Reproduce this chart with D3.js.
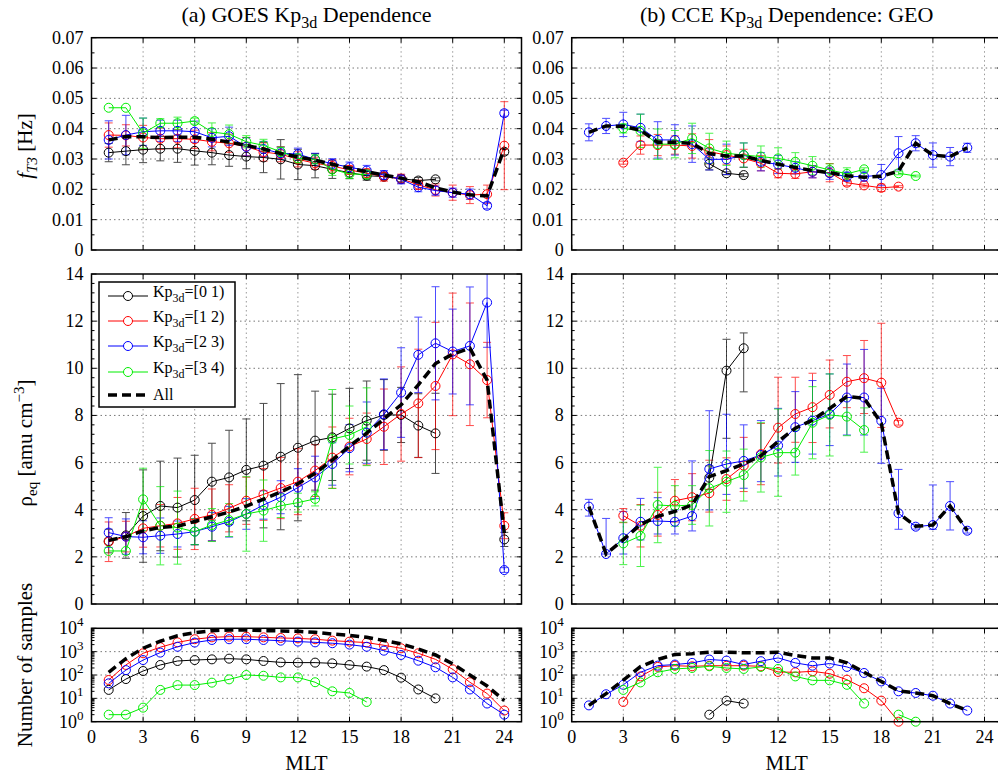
<!DOCTYPE html>
<html>
<head>
<meta charset="utf-8">
<script src="https://cdn.jsdelivr.net/npm/d3@7/dist/d3.min.js"></script>
<style>
  body { margin: 0; background: #fff; }
  svg { display: block; }
  svg text { font-family: "Liberation Serif", "DejaVu Serif", serif; }
</style>
</head>
<body>
<div id="graphicContainer"></div>
<script>

// MLT bins 1..24
const mlt = d3.range(1, 25)

const xTicks = [0, 3, 6, 9, 12, 15, 18, 21, 24]

const keyLabels = ["[0 1)", "[1 2)", "[2 3)", "[3 4)"]

const _ = null

// (a) GOES  f_T3 [Hz]
const fA_k01 = [0.0321,0.0326,0.0331,0.0334,0.0334,0.0327,0.0321,0.0313,0.0308,0.0305,0.0299,0.0282,0.0278,0.0266,0.0255,0.0245,0.0242,0.0235,0.0229,0.0233,_,_,_,0.0324]
const eA_k01 = [0.003,0.0045,0.0043,0.004,0.0045,0.0047,0.004,0.0037,0.004,0.005,0.0065,0.005,0.004,0.003,0.002,0.0015,0.001,0.001,0.001,0.0005,_,_,_,0.001]
const fA_k12 = [0.0379,0.0378,0.0371,0.0367,0.0367,0.0365,0.0357,0.0352,0.0341,0.0323,0.0316,0.0299,0.0286,0.0277,0.0264,0.0253,0.0242,0.0235,0.0215,0.0198,0.0189,0.0181,0.0184,0.0344]
const eA_k12 = [0.004,0.0035,0.004,0.0035,0.003,0.003,0.003,0.003,0.003,0.003,0.0025,0.0025,0.002,0.002,0.0015,0.0015,0.0015,0.0015,0.0015,0.002,0.0025,0.0028,0.003,0.0145]
const fA_k23 = [0.0363,0.0379,0.039,0.0393,0.0393,0.039,0.037,0.0375,0.034,0.0333,0.0319,0.0316,0.0299,0.0284,0.0273,0.0262,0.0247,0.0233,0.0207,0.0196,0.0189,0.0184,0.0146,0.0451]
const eA_k23 = [0.0063,0.0065,0.0045,0.0035,0.0035,0.0035,0.003,0.003,0.003,0.0025,0.002,0.002,0.002,0.0017,0.0017,0.0017,0.0015,0.0015,0.0015,0.0015,0.0015,0.0017,0.001,0.001]
const fA_k34 = [0.0469,0.0469,0.0385,0.0418,0.0418,0.0425,0.0389,0.0382,0.0357,0.0345,0.0324,0.0302,0.0299,0.0266,0.0251,0.0249,_,_,_,_,_,_,_,_]
const eA_k34 = [0,0,0.005,0.0015,0.002,0.001,0.003,0.003,0.002,0.002,0.0015,0.0015,0.0015,0.002,0.0015,0.0015,_,_,_,_,_,_,_,_]
const fA_all = [0.0363,0.0374,0.0373,0.0371,0.0372,0.0372,0.0365,0.0356,0.0345,0.0333,0.0318,0.0307,0.0296,0.0283,0.027,0.0258,0.0247,0.0237,0.0225,0.0205,0.0191,0.0182,0.0178,0.0335]

// (b) CCE GEO  f_T3 [Hz]
const fB_k01 = [_,_,_,_,_,_,_,0.0284,0.0253,0.0247,_,_,_,_,_,_,_,_,_,_,_,_,_,_]
const eB_k01 = [_,_,_,_,_,_,_,0.002,0.0005,0.0005,_,_,_,_,_,_,_,_,_,_,_,_,_,_]
const fB_k12 = [_,_,0.0288,0.0346,0.0346,0.0346,0.0343,0.0324,0.0313,0.0302,0.0286,0.0253,0.0251,0.0258,0.0255,0.0222,0.0213,0.0205,0.0209,_,_,_,_,_]
const eB_k12 = [_,_,0.0005,0.003,0.0035,0.003,0.004,0.004,0.003,0.003,0.0025,0.0015,0.0015,0.002,0.003,0.001,0.0005,0.0012,0.0003,_,_,_,_,_]
const fB_k23 = [0.0388,0.0409,0.0414,0.0403,0.0363,0.0363,0.0349,0.0299,0.0299,0.0313,0.0291,0.0282,0.0271,0.0258,0.0253,0.0242,0.0242,0.0247,0.0319,0.0352,0.0313,0.0308,0.0337,_]
const eB_k23 = [0.0028,0.0025,0.004,0.0045,0.006,0.005,0.006,0.0035,0.005,0.004,0.003,0.003,0.002,0.002,0.002,0.0015,0.0015,0.0035,0.0055,0.0025,0.004,0.003,0.0015,_]
const fB_k34 = [_,_,0.0401,0.0393,0.0349,0.0349,0.0368,0.0335,0.0319,0.0313,0.0308,0.0302,0.0291,0.0278,0.0264,0.0251,0.0266,_,0.0253,0.0244,_,_,_,_]
const eB_k34 = [_,_,0.0015,0.0055,0.005,0.0045,0.005,0.005,0.004,0.004,0.0035,0.0035,0.003,0.003,0.002,0.002,0.0005,_,0.0005,0.0003,_,_,_,_]
const fB_all = [0.0388,0.0409,0.0408,0.0395,0.0355,0.0355,0.0352,0.0318,0.031,0.031,0.0295,0.0283,0.0272,0.0262,0.0255,0.0245,0.024,0.0243,0.026,0.0352,0.0313,0.0308,0.0337,_]

// (a) GOES  rho_eq [amu cm^-3]
const rA_k01 = [2.67,2.91,3.73,4.16,4.09,4.41,5.19,5.37,5.69,5.87,6.25,6.63,6.93,7.07,7.45,7.78,8.02,8.02,7.57,7.24,_,_,_,2.74]
const eRA_k01 = [0.5,0.97,1.96,1.9,2.1,1.9,1.63,2.0,2.16,2.64,3.1,3.1,2.1,1.83,1.7,1.68,1.5,1.17,1.35,1.7,_,_,_,0.3]
const rA_k12 = [2.64,2.86,3.21,3.32,3.42,3.61,3.78,4.06,4.38,4.65,4.92,5.19,5.66,6.21,6.68,7.0,7.52,8.06,8.51,9.25,10.59,10.17,9.5,3.32]
const eRA_k12 = [0.84,0.65,0.8,0.9,1.1,1.3,1.1,1.0,1.0,1.1,1.3,1.4,1.1,1.3,1.2,1.1,1.6,2.0,2.3,2.7,2.6,2.6,1.6,0.55]
const rA_k23 = [3.03,2.86,2.83,2.9,2.97,3.07,3.28,3.49,3.82,4.2,4.53,4.94,5.37,5.94,6.61,7.27,8.05,8.97,10.57,11.06,10.71,10.95,12.79,1.44]
const eRA_k23 = [0.63,0.75,0.7,0.75,0.55,0.55,0.6,0.65,0.65,0.6,0.7,0.8,0.9,0.9,1.0,1.3,1.5,1.9,1.6,2.4,1.8,2.5,1.9,0.1]
const rA_k34 = [2.25,2.25,4.44,3.32,3.24,3.07,3.35,3.56,3.82,3.96,4.17,4.3,4.46,7.0,7.17,7.52,_,_,_,_,_,_,_,_]
const eRA_k34 = [0,0,1.32,1.66,1.55,0.55,0.7,0.7,1.58,1.3,0.5,0.4,0.3,2.1,1.23,1.65,_,_,_,_,_,_,_,_]
const rA_all = [2.7,2.85,3.1,3.25,3.3,3.5,3.7,3.9,4.15,4.45,4.75,5.1,5.55,6.1,6.7,7.25,7.85,8.45,9.3,10.2,10.6,10.85,9.5,3.0]

// (b) CCE GEO  rho_eq [amu cm^-3]  (upper / lower error where they differ)
const rB_k01 = [_,_,_,_,_,_,_,5.36,9.9,10.85,_,_,_,_,_,_,_,_,_,_,_,_,_,_]
const eRB_k01 = [_,_,_,_,_,_,_,0.5,1.33,0.65,_,_,_,_,_,_,_,_,_,_,_,_,_,_]
const eRB_k01_lo = [_,_,_,_,_,_,_,0.5,2.87,1.85,_,_,_,_,_,_,_,_,_,_,_,_,_,_]
const rB_k12 = [_,_,3.75,3.32,3.78,4.38,4.53,4.7,5.3,5.87,6.36,7.48,8.06,8.35,8.87,9.43,9.58,9.39,7.69,_,_,_,_,_]
const eRB_k12 = [_,_,0.3,0.9,0.96,0.9,1.0,1.4,0.9,1.2,1.3,2.14,1.56,1.44,1.48,1.11,1.6,2.52,0.1,_,_,_,_,_]
const eRB_k12_lo = [_,_,0.3,0.9,0.9,0.9,1.0,0.8,0.9,1.1,1.3,1.5,1.2,1.5,1.4,1.1,1.5,1.9,0.1,_,_,_,_,_]
const rB_k23 = [4.13,2.12,2.79,3.49,3.52,3.49,3.73,5.73,5.94,6.07,6.32,6.72,7.5,7.78,8.06,8.76,8.76,7.77,3.85,3.28,3.35,4.16,3.11,_]
const eRB_k23 = [0.31,1.51,1.13,0.99,0.99,0.5,2.34,2.47,2.11,1.53,1.46,1.58,1.51,1.7,1.7,1.42,2.04,1.38,1.86,0.1,1.7,1.03,0.1,_]
const eRB_k23_lo = [0.4,0,0.67,0.77,0.55,0.52,0.63,1.74,1.29,1.16,1.13,1.29,1.49,1.42,1.34,1.59,1.59,1.8,0.68,0.1,0.18,1.02,0.1,_]
const rB_k34 = [_,_,2.57,2.89,4.2,4.16,4.2,4.91,5.19,5.47,6.22,6.42,6.42,7.69,8.02,7.95,7.38,_,_,_,_,_,_,_]
const eRB_k34 = [_,_,0.9,1.3,1.6,0.86,0.82,1.6,1.3,1.1,1.47,1.85,0.95,1.53,1.74,0.81,0.94,_,_,_,_,_,_,_]
const rB_all = [4.13,2.12,2.73,3.37,3.72,3.93,4.2,5.4,5.66,5.94,6.29,6.89,7.46,7.8,8.3,8.8,8.73,7.67,3.85,3.3,3.35,4.16,3.11,_]

// number of samples
const nA_k01 = [23,67,148,269,398,437,468,501,468,398,347,339,339,316,269,229,162,77,24,10,_,_,_,_]
const nA_k12 = [61,269,851,1550,2500,3400,4100,4400,4400,4100,3850,3700,3400,2960,2680,2450,1870,1390,850,468,175,49,16,3]
const nA_k23 = [44,162,437,910,1620,2450,3160,3400,3400,3160,2950,2700,2500,2290,2000,1620,1100,720,410,214,79,24,6,2]
const nA_k34 = [2,2,4,23,37,37,47,65,100,93,79,79,49,20,17,7,_,_,_,_,_,_,_,_]
const nA_all = [130,500,1400,2800,4800,6500,7900,8500,8500,7900,7700,7400,6700,5700,5000,4100,3000,2150,1300,720,300,100,34,8]

const nB_k01 = [_,_,_,_,_,_,_,2,8,6,_,_,_,_,_,_,_,_,_,_,_,_,_,_]
const nB_k12 = [_,_,7,87,222,250,236,250,250,250,236,135,130,144,114,63,27,8,1,_,_,_,_,_]
const nB_k23 = [5,15,38,131,252,280,330,460,415,280,390,540,330,250,310,222,122,53,20,17,13,6,3,_]
const nB_k34 = [_,_,23,48,131,182,200,236,200,182,222,182,87,59,59,38,6,_,2,1,_,_,_,_]
const nB_all = [5,16,60,230,460,760,810,950,950,890,890,950,680,540,540,330,130,53,21,17,13,6,3,_]

const colors = ["#000000", "#ff0000", "#0000ff", "#00ee00"]

const width = 998
const height = 777
const plotW = 430

const cols = [91.5, 571.7]
const rows = [
  { top: 37.7, bottom: 250 },
  { top: 274, bottom: 604 },
  { top: 628.3, bottom: 721.7 }
]

let clipCount = 0

const svg = d3.select("#graphicContainer").append("svg")
  .attr("width", width)
  .attr("height", height)

function makeSeries(vals, errs, errsLo) {
  return vals.map((v, i) => ({
    series: v,
    errors: errs ? errs[i] : null,
    errorsLo: errsLo && errsLo[i] ? errsLo[i] : (errs ? errs[i] : null),
    color: i < 4 ? colors[i] : "#000",
    dashed: i === 4
  }))
}

function drawPanel(p) {

  const x = d3.scaleLinear()
    .domain([0, 25])
    .range([p.left, p.left + plotW])

  const y = p.log
    ? d3.scaleLog().domain([1, 1e4]).range([p.bottom, p.top])
    : d3.scaleLinear().domain(p.domain).range([p.bottom, p.top])

  const g = svg.append("g")

  const id = "clip" + clipCount++

  g.append("clipPath")
    .attr("id", id)
    .append("rect")
    .attr("x", p.left)
    .attr("y", p.top)
    .attr("width", plotW)
    .attr("height", p.bottom - p.top)

  // grid
  g.selectAll(".vgrid")
    .data(xTicks.filter(t => t > 0))
    .enter()
    .append("line")
    .attr("x1", d => x(d))
    .attr("x2", d => x(d))
    .attr("y1", p.top)
    .attr("y2", p.bottom)
    .attr("stroke", "#999")
    .attr("stroke-width", 1)
    .attr("stroke-dasharray", "1.5,3")

  g.selectAll(".hgrid")
    .data(p.yTicks.filter(t => y(t) > p.top + 1 && y(t) < p.bottom - 1))
    .enter()
    .append("line")
    .attr("x1", p.left)
    .attr("x2", p.left + plotW)
    .attr("y1", d => y(d))
    .attr("y2", d => y(d))
    .attr("stroke", "#777")
    .attr("stroke-width", 1)
    .attr("stroke-dasharray", "1.5,3")

  // ticks, inward on all sides
  const tickG = g.append("g").attr("stroke", "#000").attr("stroke-width", 1)

  xTicks.forEach(t => {
    tickG.append("line").attr("x1", x(t)).attr("x2", x(t)).attr("y1", p.bottom).attr("y2", p.bottom - 5)
    tickG.append("line").attr("x1", x(t)).attr("x2", x(t)).attr("y1", p.top).attr("y2", p.top + 5)
  })

  p.yTicks.forEach(t => {
    tickG.append("line").attr("x1", p.left).attr("x2", p.left + 5).attr("y1", y(t)).attr("y2", y(t))
    tickG.append("line").attr("x1", p.left + plotW).attr("x2", p.left + plotW - 5).attr("y1", y(t)).attr("y2", y(t))
  })

  p.yMinor.forEach(t => {
    tickG.append("line").attr("x1", p.left).attr("x2", p.left + 3).attr("y1", y(t)).attr("y2", y(t))
    tickG.append("line").attr("x1", p.left + plotW).attr("x2", p.left + plotW - 3).attr("y1", y(t)).attr("y2", y(t))
  })

  // y tick labels
  p.yTicks.forEach(t => {
    const label = g.append("text")
      .attr("x", p.left - 8)
      .attr("y", y(t) + 6)
      .attr("text-anchor", "end")
      .attr("font-size", 18)
      .attr("fill", "#000")

    if (p.log) {
      label.append("tspan").text("10")
      label.append("tspan")
        .attr("dy", -8)
        .attr("font-size", 13)
        .text(Math.round(Math.log10(t)))
    } else {
      label.text(p.format(t))
    }
  })

  // x tick labels (bottom row only)
  if (p.xLabels) {

    g.selectAll(".xlab")
      .data(xTicks)
      .enter()
      .append("text")
      .attr("x", d => x(d))
      .attr("y", p.bottom + 21)
      .attr("text-anchor", "middle")
      .attr("font-size", 18)
      .text(d => d)

    g.append("text")
      .attr("x", x(12.5))
      .attr("y", p.bottom + 48)
      .attr("text-anchor", "middle")
      .attr("font-size", 21)
      .text("MLT")
  }

  // data
  const clipped = g.append("g").attr("clip-path", `url(#${id})`)
  const marks = g.append("g")

  p.series.forEach((s, si) => {

    const pts = mlt.map((h, i) => ({
      h: h,
      v: s.series[i],
      e: s.errors ? s.errors[i] : null,
      lo: s.errorsLo ? s.errorsLo[i] : null
    }))

    const withErr = pts.filter(d => d.v != null && d.e != null && (d.e > 0 || d.lo > 0))

    const eb = clipped.append("g")
      .attr("stroke", s.color)
      .attr("stroke-width", 1)
      .attr("opacity", 0.7)

    withErr.forEach(d => {
      const lo = d.v - (d.lo != null ? d.lo : d.e)
      const hi = d.v + d.e
      eb.append("line")
        .attr("x1", x(d.h)).attr("x2", x(d.h))
        .attr("y1", y(lo)).attr("y2", y(hi))
      eb.append("line")
        .attr("x1", x(d.h) - 4).attr("x2", x(d.h) + 4)
        .attr("y1", y(lo)).attr("y2", y(lo))
      eb.append("line")
        .attr("x1", x(d.h) - 4).attr("x2", x(d.h) + 4)
        .attr("y1", y(hi)).attr("y2", y(hi))
    })

    const line = d3.line()
      .defined(d => d.v != null)
      .x(d => x(d.h))
      .y(d => y(d.v))

    marks.append("path")
      .datum(pts)
      .attr("d", line)
      .attr("fill", "none")
      .attr("stroke", s.color)
      .attr("stroke-width", s.dashed ? 3.5 : 1)
      .attr("stroke-dasharray", s.dashed ? "9,5" : null)

    if (!s.dashed) {
      marks.selectAll(null)
        .data(pts.filter(d => d.v != null))
        .enter()
        .append("circle")
        .attr("cx", d => x(d.h))
        .attr("cy", d => y(d.v))
        .attr("r", 4.5)
        .attr("fill", "none")
        .attr("stroke", s.color)
        .attr("stroke-width", 1)
    }

  })

  // frame
  g.append("rect")
    .attr("x", p.left)
    .attr("y", p.top)
    .attr("width", plotW)
    .attr("height", p.bottom - p.top)
    .attr("fill", "none")
    .attr("stroke", "#000")
    .attr("stroke-width", 1.5)

  return { x, y, g }
}

const fFormat = v => v === 0 ? "0" : d3.format(".2f")(v)

const fTicks = d3.range(0, 0.0701, 0.01)
const fMinor = d3.range(0.005, 0.07, 0.01)
const rTicks = d3.range(0, 14.1, 2)
const rMinor = d3.range(0, 14.01, 0.4).filter(v => Math.abs(v / 2 - Math.round(v / 2)) > 0.01)
const nTicks = [1, 10, 100, 1000, 10000]
const nMinor = [1, 10, 100, 1000].flatMap(k => d3.range(2, 10).map(m => m * k))

const panels = [
  { col: 0, row: 0, domain: [0, 0.07], yTicks: fTicks, yMinor: fMinor, format: fFormat,
    series: makeSeries([fA_k01, fA_k12, fA_k23, fA_k34, fA_all], [eA_k01, eA_k12, eA_k23, eA_k34, null]) },
  { col: 1, row: 0, domain: [0, 0.07], yTicks: fTicks, yMinor: fMinor, format: fFormat,
    series: makeSeries([fB_k01, fB_k12, fB_k23, fB_k34, fB_all], [eB_k01, eB_k12, eB_k23, eB_k34, null]) },
  { col: 0, row: 1, domain: [0, 14], yTicks: rTicks, yMinor: rMinor, format: d => d,
    series: makeSeries([rA_k01, rA_k12, rA_k23, rA_k34, rA_all], [eRA_k01, eRA_k12, eRA_k23, eRA_k34, null]) },
  { col: 1, row: 1, domain: [0, 14], yTicks: rTicks, yMinor: rMinor, format: d => d,
    series: makeSeries([rB_k01, rB_k12, rB_k23, rB_k34, rB_all], [eRB_k01, eRB_k12, eRB_k23, eRB_k34, null], [eRB_k01_lo, eRB_k12_lo, eRB_k23_lo, null, null]) },
  { col: 0, row: 2, log: true, yTicks: nTicks, yMinor: nMinor, xLabels: true,
    series: makeSeries([nA_k01, nA_k12, nA_k23, nA_k34, nA_all], null) },
  { col: 1, row: 2, log: true, yTicks: nTicks, yMinor: nMinor, xLabels: true,
    series: makeSeries([nB_k01, nB_k12, nB_k23, nB_k34, nB_all], null) }
]

panels.forEach(p => {
  p.left = cols[p.col]
  p.top = rows[p.row].top
  p.bottom = rows[p.row].bottom
  drawPanel(p)
})

// titles
const titles = [["(a) GOES Kp", "3d", " Dependence"], ["(b) CCE Kp", "3d", " Dependence: GEO"]]

titles.forEach((t, i) => {
  const title = svg.append("text")
    .attr("x", cols[i] + plotW / 2)
    .attr("y", 22)
    .attr("text-anchor", "middle")
    .attr("font-size", 22)

  title.append("tspan").text(t[0])
  title.append("tspan").attr("dy", 6).attr("font-size", 16).text(t[1])
  title.append("tspan").attr("dy", -6).text(t[2])
})

// y axis labels
function yLabel(cy) {
  return svg.append("text")
    .attr("transform", `translate(32, ${cy}) rotate(-90)`)
    .attr("text-anchor", "middle")
    .attr("font-size", 21)
}

const fLab = yLabel(146)
fLab.append("tspan").attr("font-style", "italic").text("f")
fLab.append("tspan").attr("font-style", "italic").attr("dy", 5).attr("font-size", 15).text("T3")
fLab.append("tspan").attr("dy", -5).text(" [Hz]")

const rLab = yLabel(443)
rLab.append("tspan").text("ρ")
rLab.append("tspan").attr("dy", 5).attr("font-size", 15).text("eq")
rLab.append("tspan").attr("dy", -5).text(" [amu cm")
rLab.append("tspan").attr("dy", -8).attr("font-size", 15).text("−3")
rLab.append("tspan").attr("dy", 8).text("]")

yLabel(665).text("Number of samples")

// legend
const legend = svg.append("g")

legend.append("rect")
  .attr("x", 99)
  .attr("y", 282)
  .attr("width", 136)
  .attr("height", 125)
  .attr("fill", "#fff")
  .attr("stroke", "#000")
  .attr("stroke-width", 1.5)

const legendRows = [296, 321, 346, 372, 395]

legendRows.forEach((ly, i) => {

  const row = legend.append("g")

  row.append("line")
    .attr("x1", 108)
    .attr("x2", 148)
    .attr("y1", ly)
    .attr("y2", ly)
    .attr("stroke", i < 4 ? colors[i] : "#000")
    .attr("stroke-width", i < 4 ? 1 : 3.5)
    .attr("stroke-dasharray", i < 4 ? null : "9,5")

  if (i < 4) {
    row.append("circle")
      .attr("cx", 128)
      .attr("cy", ly)
      .attr("r", 4.5)
      .attr("fill", "#fff")
      .attr("stroke", colors[i])
  }

  const txt = row.append("text")
    .attr("x", 153)
    .attr("y", ly + 1)
    .attr("font-size", 16)

  if (i < 4) {
    txt.append("tspan").text("Kp")
    txt.append("tspan").attr("dy", 5).attr("font-size", 12).text("3d")
    txt.append("tspan").attr("dy", -5).text("=" + keyLabels[i])
  } else {
    txt.attr("y", ly + 5).text("All")
  }

})

</script>
</body>
</html>
